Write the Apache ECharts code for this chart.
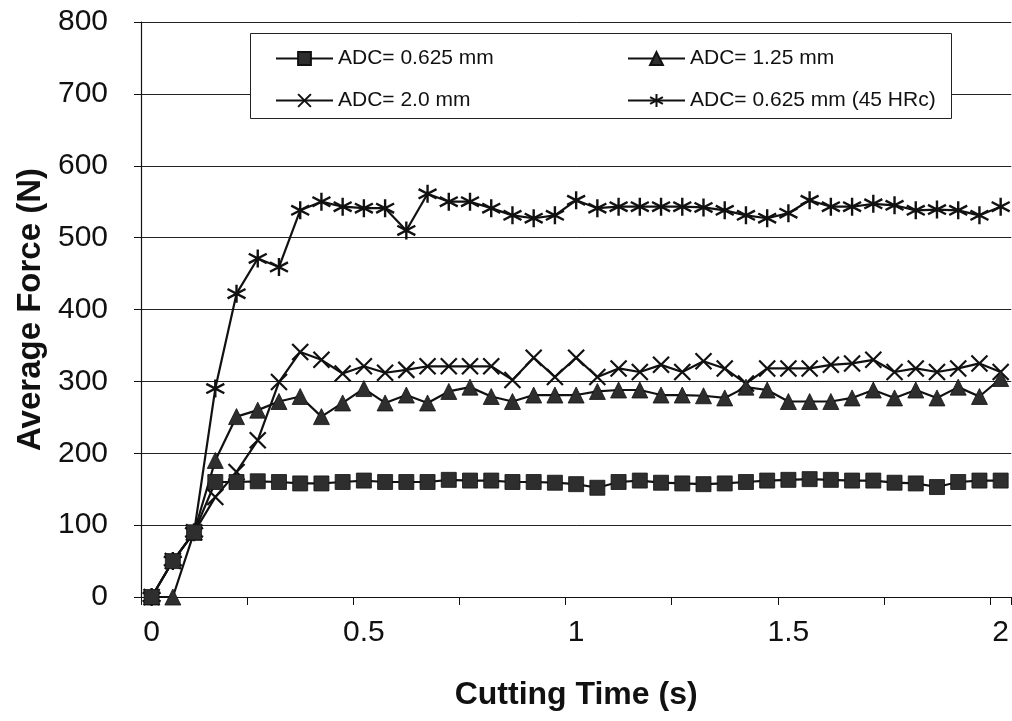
<!DOCTYPE html>
<html>
<head>
<meta charset="utf-8">
<title>Average Force vs Cutting Time</title>
<script src="https://cdn.jsdelivr.net/npm/echarts@6/dist/echarts.min.js"></script>
<style>
  html, body { margin: 0; padding: 0; background: #fff; }
  #chart { width: 1012px; height: 721px; }
</style>
</head>
<body>
<div id="chart"></div>
<script>
// Cutting time samples (s), one every 0.05 s
const cuttingTime = [
  '0', '0.05', '0.1', '0.15', '0.2', '0.25', '0.3', '0.35', '0.4', '0.45',
  '0.5', '0.55', '0.6', '0.65', '0.7', '0.75', '0.8', '0.85', '0.9', '0.95',
  '1', '1.05', '1.1', '1.15', '1.2', '1.25', '1.3', '1.35', '1.4', '1.45',
  '1.5', '1.55', '1.6', '1.65', '1.7', '1.75', '1.8', '1.85', '1.9', '1.95', '2'
];

const seriesNames = ['ADC= 0.625 mm', 'ADC= 1.25 mm', 'ADC= 2.0 mm', 'ADC= 0.625 mm (45 HRc)'];

// Average force (N)
const adc0625 = [
  0, 50, 90, 160, 160, 161, 160, 158, 158, 160,
  162, 160, 160, 160, 163, 162, 162, 160, 160, 159,
  157, 152, 160, 162, 159, 158, 157, 158, 160, 162,
  163, 164, 163, 162, 162, 159, 158, 153, 160, 162, 162
];
const adc125 = [
  0, 0, 90, 190, 251, 260, 272, 279, 251, 270,
  290, 270, 281, 270, 286, 292, 279, 272, 281, 281,
  281, 286, 288, 288, 281, 281, 280, 277, 292, 288,
  272, 272, 272, 277, 288, 277, 288, 277, 292, 279, 304
];
const adc20 = [
  0, 50, 90, 139, 174, 218, 299, 341, 330, 311,
  321, 312, 316, 321, 321, 321, 321, 302, 333, 306,
  333, 306, 318, 313, 323, 313, 328, 318, 297, 318,
  318, 318, 323, 325, 330, 313, 318, 313, 318, 325, 313
];
const adc0625Hard = [
  0, 50, 90, 290, 422, 471, 459, 538, 550, 543,
  541, 541, 510, 561, 550, 550, 541, 531, 527, 531,
  552, 541, 543, 543, 543, 543, 542, 538, 531, 527,
  534, 552, 543, 543, 547, 545, 538, 539, 538, 531, 543
];

const yTicks = { min: 0, max: 800, step: 100 };

const FONT = '"Liberation Sans", Arial, sans-serif';
const INK = '#111';

const crossPath = 'path://M0,0L10,10M10,0L0,10';
const asteriskPath = 'path://M5,0L5,10M0.5,2.4L9.5,7.6M0.5,7.6L9.5,2.4';

function makeSeries(name, data, symbol, size, opts) {
  return Object.assign({
    name: name,
    type: 'line',
    data: data,
    symbol: symbol,
    symbolSize: size,
    showAllSymbol: true,
    animation: false,
    lineStyle: { color: INK, width: 2.2 },
    itemStyle: { color: '#2e2e2e', borderColor: INK, borderWidth: 0.8 },
    emphasis: { disabled: true }
  }, opts || {});
}

const chart = echarts.init(document.getElementById('chart'), null, { renderer: 'canvas' });

const legendCommon = {
  orient: 'vertical',
  top: 43,
  itemWidth: 57,
  itemHeight: 16,
  itemGap: 21,
  selectedMode: false,
  textStyle: { fontFamily: FONT, fontSize: 21, color: INK }
};

chart.setOption({
  backgroundColor: '#fff',
  animation: false,
  grid: { left: 141, right: 0, top: 22, bottom: 124 },
  graphic: [{
    type: 'rect',
    z: 3,
    shape: { x: 250.5, y: 33.5, width: 701, height: 85 },
    style: { fill: '#fff', stroke: '#222', lineWidth: 1 }
  }],
  legend: [
    Object.assign({ left: 270, data: [seriesNames[0], seriesNames[2]] }, legendCommon),
    Object.assign({ left: 622, data: [seriesNames[1], seriesNames[3]] }, legendCommon)
  ],
  xAxis: {
    type: 'category',
    data: cuttingTime,
    boundaryGap: true,
    name: 'Cutting Time (s)',
    nameLocation: 'middle',
    nameGap: 82,
    nameTextStyle: { fontFamily: FONT, fontSize: 32, fontWeight: 'bold', color: INK },
    axisLine: { lineStyle: { color: INK, width: 1.2 } },
    axisTick: { show: true, interval: 4, alignWithLabel: false, length: 8, lineStyle: { color: INK } },
    axisLabel: { interval: 9, margin: 21, fontFamily: FONT, fontSize: 30, color: INK },
    splitLine: { show: false }
  },
  yAxis: {
    type: 'value',
    min: yTicks.min,
    max: yTicks.max,
    interval: yTicks.step,
    name: 'Average Force (N)',
    nameLocation: 'middle',
    nameGap: 92,
    nameTextStyle: { fontFamily: FONT, fontSize: 33, fontWeight: 'bold', color: INK },
    axisLine: { show: true, lineStyle: { color: INK, width: 1.2 } },
    axisTick: { show: true, length: 7, lineStyle: { color: INK } },
    axisLabel: { margin: 33, fontFamily: FONT, fontSize: 30, color: INK },
    splitLine: { show: true, lineStyle: { color: '#222', width: 1 } }
  },
  series: [
    makeSeries(seriesNames[1], adc125, 'triangle', 16, { z: 3 }),
    makeSeries(seriesNames[2], adc20, crossPath, 16, {
      z: 2,
      itemStyle: { color: 'none', borderColor: INK, borderWidth: 2.2 }
    }),
    makeSeries(seriesNames[3], adc0625Hard, asteriskPath, 18, {
      z: 2,
      itemStyle: { color: 'none', borderColor: INK, borderWidth: 2.4 }
    }),
    makeSeries(seriesNames[0], adc0625, 'rect', 15, { z: 4 })
  ]
});
</script>
</body>
</html>
